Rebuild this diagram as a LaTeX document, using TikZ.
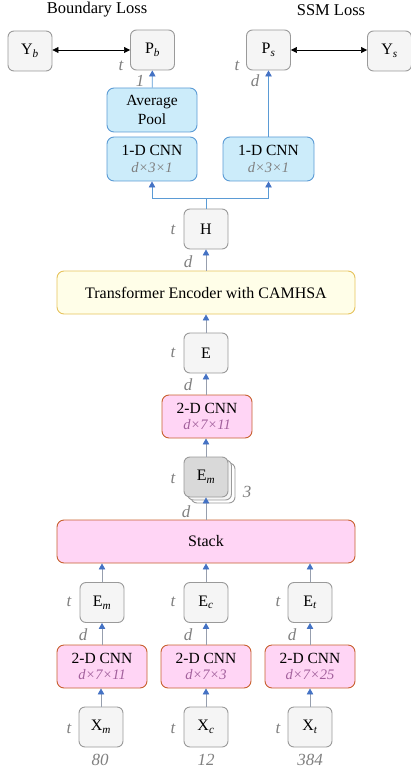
\documentclass[tikz,border=0pt]{standalone}
\usepackage{fontspec}
\setmainfont{Liberation Serif}
\usetikzlibrary{arrows.meta}
\definecolor{gfill}{HTML}{F5F5F5}
\definecolor{gdraw}{HTML}{9A9A9A}
\definecolor{emfill}{HTML}{D9D9D9}
\definecolor{bfill}{HTML}{CCECFA}
\definecolor{bdraw}{HTML}{5B9BD5}
\definecolor{pfill}{HTML}{FFD5F5}
\definecolor{pdraw}{HTML}{C8602E}
\definecolor{yfill}{HTML}{FFFEE8}
\definecolor{ydraw}{HTML}{E6C35C}
\definecolor{labgray}{HTML}{7F7F7F}
\definecolor{dimpink}{HTML}{A2609C}
\definecolor{linec}{HTML}{979FAE}
\definecolor{tipblue}{HTML}{4472C4}
\tikzset{
  gbox/.style={draw=gdraw, fill=gfill, rounded corners=6pt, minimum width=44pt, minimum height=40pt, inner sep=0pt, line width=0.9pt, font=\fontsize{16}{16}\selectfont},
  bbox/.style={draw=bdraw, fill=bfill, rounded corners=7pt, minimum width=90pt, minimum height=44pt, inner sep=0pt, line width=0.9pt, align=center, font=\fontsize{15.5}{16.5}\selectfont},
  pbox/.style={draw=pdraw, fill=pfill, rounded corners=7pt, minimum width=90pt, minimum height=43pt, inner sep=0pt, line width=0.9pt, align=center, font=\fontsize{15.5}{16.5}\selectfont},
  wbox/.style={rounded corners=7pt, minimum width=298pt, minimum height=43pt, inner sep=0pt, line width=0.9pt, font=\fontsize{16}{16}\selectfont},
  lab/.style={text=labgray, inner sep=0pt, font=\fontsize{17}{17}\selectfont\itshape},
  ttl/.style={inner sep=0pt, font=\fontsize{16.5}{16.5}\selectfont},
  conn/.style={draw=linec, line width=0.8pt, -{Triangle[width=6.5pt,length=6pt,color=tipblue]}},
  bline/.style={draw=bdraw, line width=0.8pt},
  bconn/.style={draw=bdraw, line width=0.8pt, -{Triangle[width=6.5pt,length=6pt,color=tipblue]}},
  dconn/.style={draw=black, line width=0.6pt, {Triangle[width=6pt,length=6pt]}-{Triangle[width=6pt,length=6pt]}}
}
\newcommand{\dimg}[1]{{\fontsize{14.5}{14.5}\selectfont\color{labgray}\itshape #1}}
\newcommand{\dimp}[1]{{\fontsize{14.5}{14.5}\selectfont\color{dimpink}\itshape #1}}
\begin{document}
\begin{tikzpicture}[x=1pt,y=-1pt]
\useasboundingbox (0,0) rectangle (411,775);
% titles
\node[ttl] (tb) at (97,10) {Boundary Loss};
\node[ttl] (ts) at (331,10) {SSM Loss};
% top row
\node[gbox] (Yb) at (30,51) {Y\textsubscript{\itshape b}};
\node[gbox] (Pb) at (152.5,50) {P\textsubscript{\itshape b}};
\node[gbox] (Ps) at (268.5,50) {P\textsubscript{\itshape s}};
\node[gbox] (Ys) at (389.5,51) {Y\textsubscript{\itshape s}};
\draw[dconn] (Yb.east |- 0,50) -- (Pb.west);
\draw[dconn] (Ps.east) -- (Ys.west |- 0,50);
\node[lab] (lt1) at (121,66) {t};
\node[lab] (l1) at (140,81) {1};
\node[lab] (lt2) at (237,66) {t};
\node[lab] (ld2) at (255,81) {d};
% blue
\node[bbox] (avg) at (152,110) {Average\\[2.5pt]Pool};
\node[bbox] (c1) at (152,159) {1-D CNN\\\dimg{d×3×1}};
\node[bbox, minimum width=91pt] (c2) at (268.5,159) {1-D CNN\\\dimg{d×3×1}};
\draw[bconn] (avg) -- (Pb);
\draw[bconn] (c2) -- (Ps);
% H
\node[gbox] (H) at (206,229) {H};
\node[lab] (lt3) at (173,230) {t};
\node[lab] (ld3) at (188,262) {d};
\coordinate (j) at (206,198);
\draw[bline] (H.north) -- (j);
\draw[bconn] (j) -| (c1.south);
\draw[bconn] (j) -| (c2.south);
% transformer
\node[wbox, draw=ydraw, fill=yfill] (tr) at (206,292.5) {Transformer Encoder with CAMHSA};
\draw[conn] (tr) -- (H);
% E
\node[gbox] (E) at (206,353) {E};
\node[lab] (lt4) at (173,353) {t};
\node[lab] (ld4) at (188,385) {d};
\draw[conn] (E) -- (tr);
% 2-D CNN
\node[pbox] (cm) at (207,416.5) {2-D CNN\\\dimp{d×7×11}};
\draw[conn] (cm.north -| E) -- (E);
% Em stack
\node[gbox, fill=white] (s2) at (213,483) {};
\node[gbox, fill=gfill] (s1) at (209.5,480) {};
\node[gbox, fill=emfill] (Em) at (206,477) {E\textsubscript{\itshape m}};
\node[lab] (lt5) at (173,479) {t};
\node[lab] (l3) at (247,492) {3};
\node[lab] (ld5) at (186,512) {d};
\draw[conn] (Em) -- (cm.south -| Em);
% Stack
\node[wbox, draw=pdraw, fill=pfill] (st) at (206,541.5) {Stack};
\draw[conn] (st.north -| Em) -- (Em.south);
% E row
\node[gbox] (E1) at (102,602.5) {E\textsubscript{\itshape m}};
\node[gbox] (E2) at (206,602.5) {E\textsubscript{\itshape c}};
\node[gbox] (E3) at (310,602.5) {E\textsubscript{\itshape t}};
\foreach \n in {E1,E2,E3} \draw[conn] (\n.north) -- (st.south -| \n);
\node[lab] (lt6) at (69,602) {t};
\node[lab] (lt7) at (173,602) {t};
\node[lab] (lt8) at (278,602) {t};
\node[lab] (ld6) at (83,635) {d};
\node[lab] (ld7) at (188,635) {d};
\node[lab] (ld8) at (292,635) {d};
% 2-D CNN row
\node[pbox] (p1) at (102,666.5) {2-D CNN\\\dimp{d×7×11}};
\node[pbox] (p2) at (206,666.5) {2-D CNN\\\dimp{d×7×3}};
\node[pbox] (p3) at (310,666.5) {2-D CNN\\\dimp{d×7×25}};
\draw[conn] (p1.north -| E1) -- (E1);
\draw[conn] (p2.north) -- (E2);
\draw[conn] (p3.north) -- (E3);
% X row
\node[gbox] (X1) at (101,727) {X\textsubscript{\itshape m}};
\node[gbox] (X2) at (206,727) {X\textsubscript{\itshape c}};
\node[gbox] (X3) at (310,727) {X\textsubscript{\itshape t}};
\draw[conn] (X1.north) -- (p1.south -| X1);
\draw[conn] (X2) -- (p2);
\draw[conn] (X3) -- (p3);
\node[lab] (lt9) at (69,729) {t};
\node[lab] (lt10) at (173,729) {t};
\node[lab] (lt11) at (278,729) {t};
\node[lab] (n1) at (100,760) {80};
\node[lab] (n2) at (206,760) {12};
\node[lab] (n3) at (310,760) {384};
\end{tikzpicture}
\end{document}
